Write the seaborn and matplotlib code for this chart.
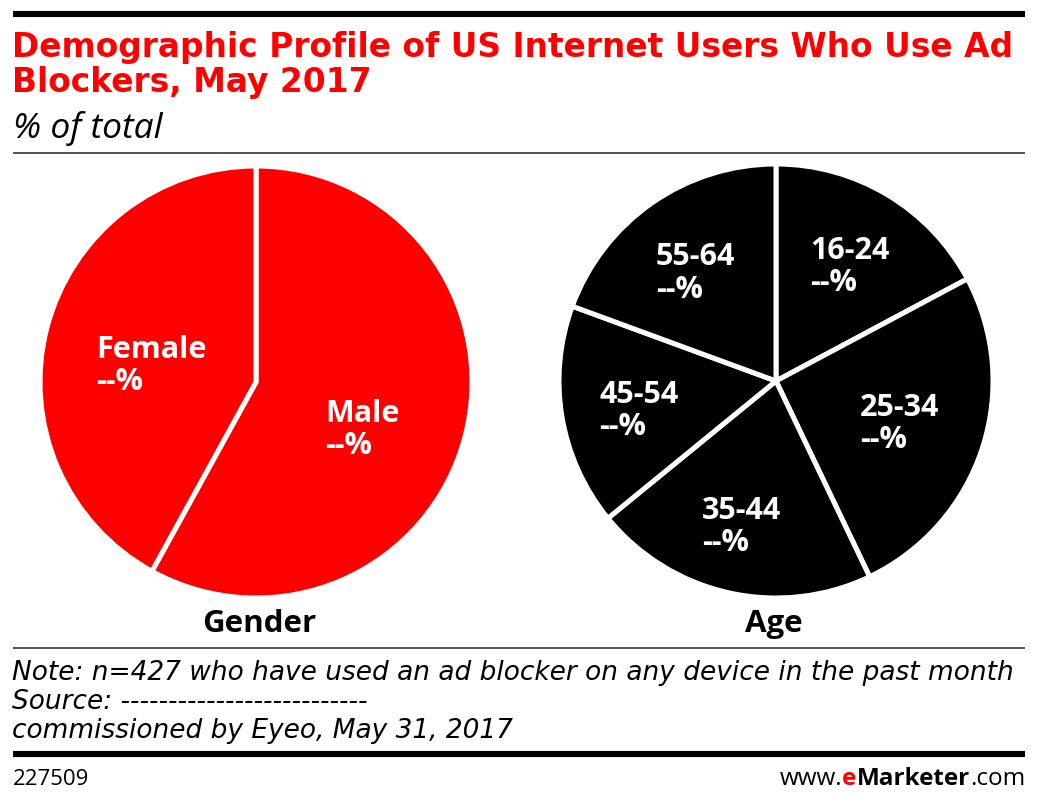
import matplotlib.pyplot as plt
import seaborn as sns
from matplotlib.lines import Line2D

# data
gender_labels = ['Male', 'Female']
gender_values = [58, 42]
age_labels = ['16-24', '25-34', '35-44', '45-54', '55-64']
age_values = [17.2, 25.7, 21.2, 16.5, 19.4]
value_text = '--%'

title_lines = ['Demographic Profile of US Internet Users Who Use Ad', 'Blockers, May 2017']
subtitle = '% of total'
note_lines = ['Note: n=427 who have used an ad blocker on any device in the past month',
              'Source: --------------------------',
              'commissioned by Eyeo, May 31, 2017']
chart_id = '227509'

RED = '#ff0000'

sns.set_theme(style='white')
plt.rcParams['font.family'] = ['Open Sans', 'DejaVu Sans']

W, H = 1038, 804
fig = plt.figure(figsize=(W / 100, H / 100), dpi=100)
fig.patch.set_facecolor('white')

# invisible full-figure axes for footer text chaining
bg = fig.add_axes([0, 0, 1, 1])
bg.axis('off')


def fx(x):
    return x / W


def fy(y):
    return 1 - y / H


def hline(y, lw, color):
    fig.add_artist(Line2D([fx(13), fx(1025)], [fy(y), fy(y)], lw=lw, color=color,
                          solid_capstyle='butt'))


# rules
hline(15, 4.4, 'black')
hline(154, 1.3, '#444444')
hline(649, 1.3, '#444444')
hline(755, 4.4, 'black')

# title and subtitle
for i, line in enumerate(title_lines):
    fig.text(fx(12), fy(57 + i * 35), line, color=RED, fontsize=23.7, fontweight='bold',
             family='DejaVu Sans', va='baseline')
fig.text(fx(13), fy(138), subtitle, fontsize=25.5, style='italic', va='baseline', color='black')


def pie_axes(cx, cy, r):
    ax = fig.add_axes([fx(cx - r), fy(cy + r), 2 * r / W, 2 * r / H])
    return ax


label_kw = dict(color='white', fontsize=22, fontweight='bold', ha='left', va='top',
                linespacing=1.1)

# gender pie
ax1 = pie_axes(256, 383, 216)
ax1.pie(gender_values, colors=[RED] * len(gender_values), startangle=90, counterclock=False,
        wedgeprops=dict(edgecolor='white', linewidth=3.6))
ax1.set_xlim(-1, 1)
ax1.set_ylim(-1, 1)
ax1.axis('off')
gender_pos = {'Male': (0.322, -0.075), 'Female': (-0.738, 0.222)}
for lab in gender_labels:
    x, y = gender_pos[lab]
    ax1.text(x, y, f'{lab}\n{value_text}', **label_kw)

# age pie
ax2 = pie_axes(776, 382, 217)
ax2.pie(age_values, colors=['black'] * len(age_values), startangle=90, counterclock=False,
        wedgeprops=dict(edgecolor='white', linewidth=3.6))
ax2.set_xlim(-1, 1)
ax2.set_ylim(-1, 1)
ax2.axis('off')
age_pos = {'16-24': (0.158, 0.675), '25-34': (0.386, -0.05), '35-44': (-0.34, -0.525),
           '45-54': (-0.814, 0.01), '55-64': (-0.553, 0.643)}
for lab in age_labels:
    x, y = age_pos[lab]
    ax2.text(x, y, f'{lab}\n{value_text}', **label_kw)

fig.text(fx(259), fy(632), 'Gender', fontsize=22.5, fontweight='bold', ha='center',
         va='baseline', color='black')
fig.text(fx(774), fy(632), 'Age', fontsize=22.5, fontweight='bold', ha='center',
         va='baseline', color='black')

# notes
for i, line in enumerate(note_lines):
    fig.text(fx(12), fy(680 + i * 29), line, fontsize=19, style='italic', va='baseline',
             family='DejaVu Sans', color='black')

# footer
fig.text(fx(13), fy(785), chart_id, fontsize=16, va='baseline', color='black')
t_com = bg.text(fx(1025), fy(785), '.com', fontsize=17.5, ha='right', va='baseline',
                color='black', transform=bg.transAxes)
t_mk = bg.annotate('Marketer', xy=(0, 0), xycoords=t_com, ha='right', va='bottom',
                   fontsize=17.5, fontweight='bold', color='black')
t_e = bg.annotate('e', xy=(0, 0), xycoords=t_mk, ha='right', va='bottom',
                  fontsize=17.5, fontweight='bold', color=RED)
bg.annotate('www.', xy=(0, 0), xycoords=t_e, ha='right', va='bottom',
            fontsize=17.5, color='black')

fig.savefig('out.png', dpi=100, facecolor='white')
